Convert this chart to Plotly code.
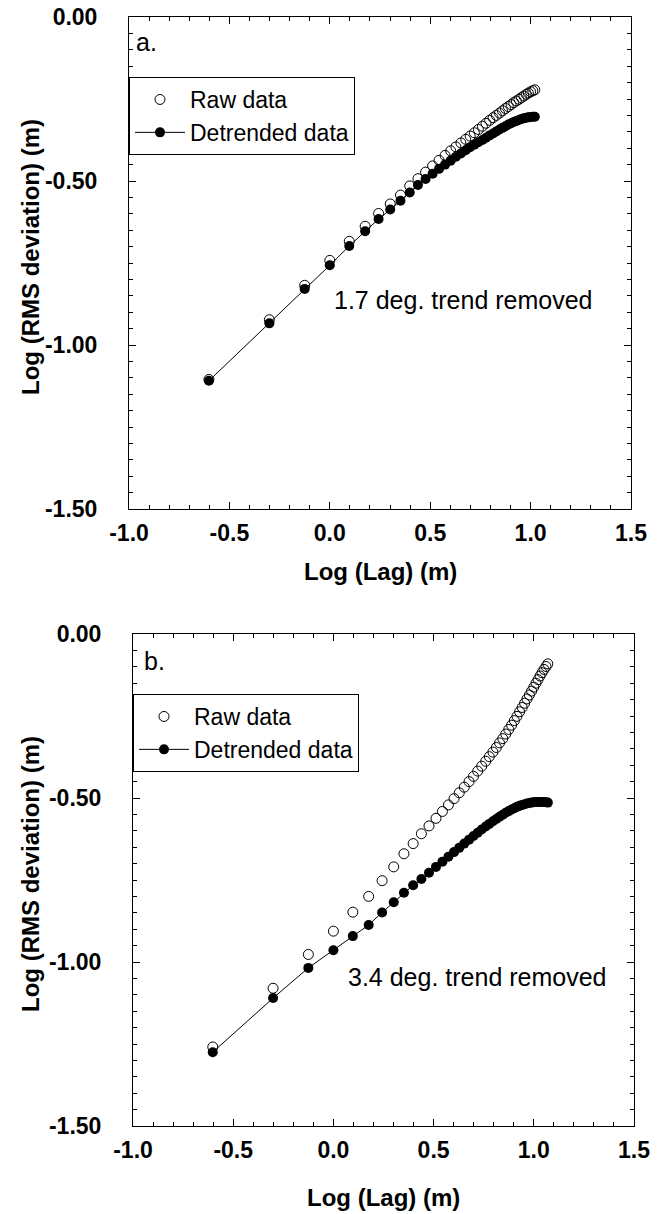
import plotly.graph_objects as go

# ---------------- data ----------------
# Panel a: lags 0.25 .. 10.5 m (log10)
lag_log_a = [-0.602, -0.301, -0.125, 0.000, 0.097, 0.176, 0.243, 0.301, 0.352, 0.398,
             0.439, 0.477, 0.512, 0.544, 0.574, 0.602, 0.628, 0.653, 0.677, 0.699,
             0.720, 0.740, 0.760, 0.778, 0.796, 0.813, 0.829, 0.845, 0.860, 0.875,
             0.889, 0.903, 0.916, 0.929, 0.942, 0.954, 0.966, 0.978, 0.989, 1.000,
             1.011, 1.021]
raw_a = [-1.105, -0.923, -0.818, -0.742, -0.684, -0.638, -0.599, -0.570, -0.543, -0.515,
         -0.493, -0.473, -0.454, -0.437, -0.422, -0.408, -0.396, -0.384, -0.373, -0.363,
         -0.353, -0.343, -0.333, -0.324, -0.315, -0.307, -0.300, -0.293, -0.286, -0.279,
         -0.273, -0.267, -0.261, -0.256, -0.251, -0.246, -0.241, -0.236, -0.232, -0.228,
         -0.225, -0.222]
detr_a = [-1.109, -0.934, -0.829, -0.757, -0.698, -0.653, -0.616, -0.587, -0.560, -0.535,
          -0.512, -0.494, -0.478, -0.463, -0.450, -0.438, -0.426, -0.416, -0.406, -0.397,
          -0.389, -0.382, -0.375, -0.368, -0.361, -0.355, -0.349, -0.343, -0.338, -0.333,
          -0.328, -0.324, -0.320, -0.317, -0.314, -0.311, -0.309, -0.307, -0.306, -0.305,
          -0.304, -0.304]

# Panel b: lags 0.25 .. 11.75 m (log10)
lag_log_b = [-0.602, -0.301, -0.125, 0.000, 0.097, 0.176, 0.243, 0.301, 0.352, 0.398,
             0.439, 0.477, 0.512, 0.544, 0.574, 0.602, 0.628, 0.653, 0.677, 0.699,
             0.720, 0.740, 0.760, 0.778, 0.796, 0.813, 0.829, 0.845, 0.860, 0.875,
             0.889, 0.903, 0.916, 0.929, 0.942, 0.954, 0.966, 0.978, 0.989, 1.000,
             1.011, 1.021, 1.031, 1.041, 1.051, 1.061, 1.070]
raw_b = [-1.259, -1.080, -0.977, -0.906, -0.848, -0.800, -0.752, -0.710, -0.670, -0.639,
         -0.609, -0.585, -0.562, -0.541, -0.521, -0.502, -0.484, -0.467, -0.450, -0.434,
         -0.418, -0.403, -0.388, -0.374, -0.360, -0.346, -0.332, -0.319, -0.305, -0.291,
         -0.278, -0.264, -0.251, -0.237, -0.224, -0.211, -0.198, -0.186, -0.174, -0.162,
         -0.150, -0.139, -0.128, -0.118, -0.108, -0.099, -0.091]
detr_b = [-1.275, -1.110, -1.018, -0.964, -0.921, -0.887, -0.849, -0.818, -0.789, -0.766,
          -0.747, -0.728, -0.710, -0.694, -0.679, -0.665, -0.652, -0.639, -0.627, -0.616,
          -0.606, -0.596, -0.587, -0.579, -0.571, -0.564, -0.557, -0.551, -0.545, -0.540,
          -0.535, -0.531, -0.527, -0.524, -0.521, -0.519, -0.517, -0.515, -0.514, -0.513,
          -0.512, -0.512, -0.512, -0.512, -0.512, -0.513, -0.514]

x_tick_vals = [-1.0, -0.5, 0.0, 0.5, 1.0, 1.5]
x_tick_text = ["-1.0", "-0.5", "0.0", "0.5", "1.0", "1.5"]
y_tick_vals = [0.0, -0.5, -1.0, -1.5]
y_tick_text = ["0.00", "-0.50", "-1.00", "-1.50"]

series_names = ["Raw data", "Detrended data"]
panel_labels = ["a.", "b."]
trend_notes = ["1.7 deg. trend removed", "3.4 deg. trend removed"]
x_title = "Log (Lag) (m)"
y_title = "Log (RMS deviation) (m)"

# ---------------- figure ----------------
W, H = 658, 1214
FONT = "Liberation Sans, Arial, sans-serif"
TICK_FS = 23
TITLE_FS = 24
TEXT_FS = 25

def px_x(p):
    return p / W

def px_y(p):
    return 1 - p / H

fig = go.Figure()

panels = [
    dict(x=lag_log_a, raw=raw_a, det=detr_a, xa="x", ya="y", legend="legend"),
    dict(x=lag_log_b, raw=raw_b, det=detr_b, xa="x2", ya="y2", legend="legend2"),
]

for p in panels:
    fig.add_trace(go.Scatter(
        x=p["x"], y=p["raw"], mode="markers", name=series_names[0],
        xaxis=p["xa"], yaxis=p["ya"], legend=p["legend"],
        marker=dict(symbol="circle-open", size=10, color="black", line=dict(width=1)),
    ))
    fig.add_trace(go.Scatter(
        x=p["x"], y=p["det"], mode="lines+markers", name=series_names[1],
        xaxis=p["xa"], yaxis=p["ya"], legend=p["legend"],
        line=dict(color="black", width=1),
        marker=dict(symbol="circle", size=10, color="black"),
    ))

# frame positions (pixels)
frames = [
    dict(l=129, r=631, t=17, b=509, xt=63),
    dict(l=133, r=634, t=634, b=1126, xt=71),
]

def xaxis_cfg(fr):
    return dict(
        domain=[px_x(fr["l"]), px_x(fr["r"])], range=[-1.0, 1.5],
        tickmode="array", tickvals=x_tick_vals, ticktext=x_tick_text,
        ticks="inside", ticklen=7, tickwidth=1, tickcolor="black",
        minor=dict(tickmode="linear", tick0=0, dtick=0.1, ticks="inside",
                   ticklen=4, tickwidth=1, tickcolor="black", showgrid=False),
        showline=True, linecolor="black", linewidth=1, mirror="allticks",
        showgrid=False, zeroline=False,
        tickfont=dict(family=FONT, size=TICK_FS, color="black", weight="bold"),
        ticklabelstandoff=3, ticklabeloverflow="allow",
        automargin=False,
    )

def yaxis_cfg(fr):
    return dict(
        domain=[px_y(fr["b"]), px_y(fr["t"])], range=[-1.5, 0.0],
        tickmode="array", tickvals=y_tick_vals, ticktext=y_tick_text,
        ticks="inside", ticklen=7, tickwidth=1, tickcolor="black",
        minor=dict(tickmode="linear", tick0=0, dtick=0.05, ticks="inside",
                   ticklen=4, tickwidth=1, tickcolor="black", showgrid=False),
        showline=True, linecolor="black", linewidth=1, mirror="allticks",
        showgrid=False, zeroline=False,
        tickfont=dict(family=FONT, size=TICK_FS, color="black", weight="bold"),
        ticklabelstandoff=26, ticklabeloverflow="allow",
        automargin=False,
    )

legend_common = dict(xanchor="left", yanchor="top", bordercolor="black", borderwidth=1,
                     bgcolor="white", font=dict(family=FONT, size=23, color="black"),
                     tracegroupgap=0, itemwidth=50)

fig.update_layout(
    width=W, height=H,
    margin=dict(l=0, r=0, t=0, b=0),
    paper_bgcolor="white", plot_bgcolor="white",
    font=dict(family=FONT, color="black"),
    xaxis=dict(**xaxis_cfg(frames[0]), anchor="y"),
    yaxis=dict(**yaxis_cfg(frames[0]), anchor="x"),
    xaxis2=dict(**xaxis_cfg(frames[1]), anchor="y2"),
    yaxis2=dict(**yaxis_cfg(frames[1]), anchor="x2"),
    legend=dict(x=px_x(frames[0]["l"]), y=px_y(frames[0]["t"] + 60), **legend_common),
    legend2=dict(x=px_x(frames[1]["l"]), y=px_y(frames[1]["t"] + 60), **legend_common),
    showlegend=True,
)

# axis titles
for fr in frames:
    fig.add_annotation(x=px_x((fr["l"] + fr["r"]) / 2), y=px_y(fr["b"] + fr["xt"]),
                       xref="paper", yref="paper", xanchor="center", yanchor="middle",
                       text=x_title, showarrow=False,
                       font=dict(family=FONT, size=TITLE_FS, color="black", weight="bold"))
    fig.add_annotation(x=px_x(30), y=px_y((fr["t"] + fr["b"]) / 2 - 6),
                       xref="paper", yref="paper", xanchor="center", yanchor="middle",
                       text=y_title, showarrow=False, textangle=-90,
                       font=dict(family=FONT, size=TITLE_FS, color="black", weight="bold"))

fig.add_annotation(x=-0.975, y=-0.075, xref="x", yref="y", text=panel_labels[0], showarrow=False,
                   xanchor="left", yanchor="middle", font=dict(family=FONT, size=TEXT_FS, color="black"))
fig.add_annotation(x=-0.955, y=-0.083, xref="x2", yref="y2", text=panel_labels[1], showarrow=False,
                   xanchor="left", yanchor="middle", font=dict(family=FONT, size=TEXT_FS, color="black"))
fig.add_annotation(x=0.665, y=-0.864, xref="x", yref="y", text=trend_notes[0], showarrow=False,
                   xanchor="center", yanchor="middle", font=dict(family=FONT, size=TEXT_FS, color="black"))
fig.add_annotation(x=0.721, y=-1.047, xref="x2", yref="y2", text=trend_notes[1], showarrow=False,
                   xanchor="center", yanchor="middle", font=dict(family=FONT, size=TEXT_FS, color="black"))

fig.write_html("out.html", config={"displayModeBar": False},
               post_script="document.body.style.margin='0px';document.body.style.overflow='hidden';")
